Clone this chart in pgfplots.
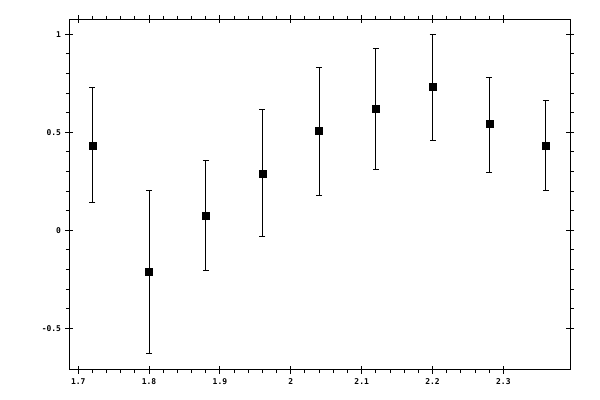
\documentclass[border=0pt]{standalone}
\usepackage{fontspec}
\setmonofont{DejaVu Sans Mono}
\usepackage{pgfplots}
\pgfplotsset{compat=1.18}
\usepackage{pgfplotstable}

% x, value, upper and lower error
\pgfplotstableread{
x     y       ep     em
1.72  0.434   0.297  0.291
1.80  -0.210  0.414  0.419
1.88  0.077   0.279  0.281
1.96  0.291   0.327  0.323
2.04  0.506   0.327  0.327
2.12  0.618   0.312  0.306
2.20  0.731   0.266  0.271
2.28  0.542   0.240  0.246
2.36  0.434   0.230  0.230
}\pts

\begin{document}
\begin{tikzpicture}
\begin{axis}[
  scale only axis,
  width=500.5bp, height=350.2bp,
  xmin=1.6877, xmax=2.394,
  ymin=-0.711, ymax=1.0755,
  axis line style={line width=1bp},
  clip=false,
  xtick={1.7,1.8,1.9,2.0,2.1,2.2,2.3},
  xticklabels={1.7,1.8,1.9,2,2.1,2.2,2.3},
  ytick={-0.5,0,0.5,1},
  yticklabels={-0.5,0,0.5,1},
  minor x tick num=4,
  minor y tick num=4,
  xtick pos=both, ytick pos=both,
  xticklabel pos=left, yticklabel pos=left,
  tick align=outside,
  major tick length=4bp,
  minor tick length=3.5bp,
  every tick/.style={black, line width=1bp},
  % inner half of the major ticks, so they cross the axis line
  extra x ticks={1.7,1.8,1.9,2.0,2.1,2.2,2.3},
  extra x tick labels={},
  extra x tick style={tick align=inside, major tick length=4bp},
  extra y ticks={-0.5,0,0.5,1},
  extra y tick labels={},
  extra y tick style={tick align=inside, major tick length=4bp},
  tick label style={font=\ttfamily\bfseries\fontsize{8}{9}\selectfont, black},
  xticklabel style={yshift=-1bp},
  yticklabel style={xshift=-1bp},
]
\addplot[
  black, only marks, mark=square*, mark size=3.5bp,
  error bars/.cd, y dir=both, y explicit,
  error bar style={line width=0.9bp},
  error mark options={rotate=90, mark size=3bp, line width=0.9bp},
] table[x=x, y=y, y error plus=ep, y error minus=em] {\pts};
\coordinate (sw) at (rel axis cs:0,0);
\coordinate (ne) at (rel axis cs:1,1);
\end{axis}
\path ([shift={(-69.5bp,-30.3bp)}]sw) rectangle ([shift={(30bp,19.5bp)}]ne);
\end{tikzpicture}
\end{document}
